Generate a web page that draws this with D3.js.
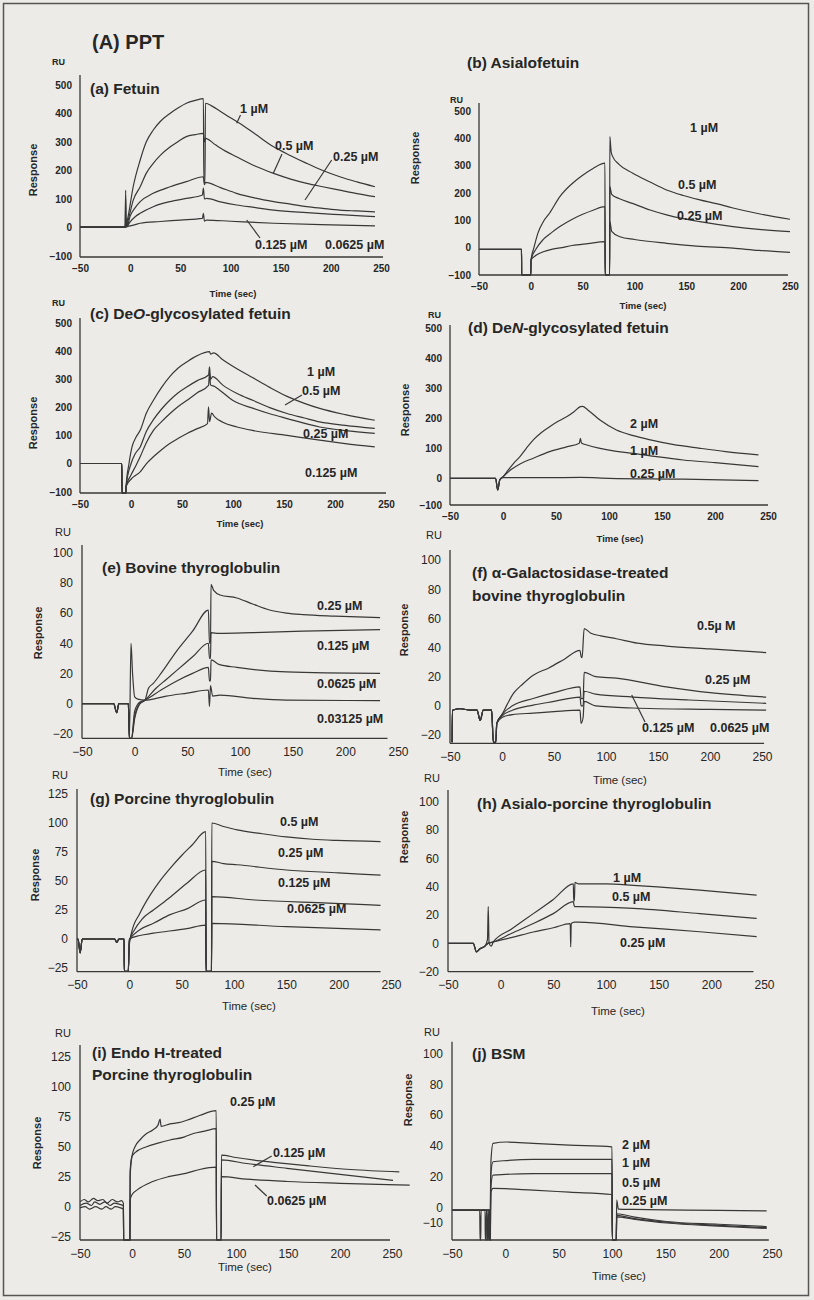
<!DOCTYPE html>
<html><head><meta charset="utf-8">
<script src="https://cdn.jsdelivr.net/npm/d3@7"></script>
<style>
body{margin:0;background:#ecebe7}
svg{display:block}
</style></head>
<body>
<svg id="chart" width="814" height="1300"></svg>
<script>
// ---------------- DATA (time in sec, response in RU) ----------------
const xTicks = [-50, 0, 50, 100, 150, 200, 250];
const yTicksFetuin = [-100, 0, 100, 200, 300, 400, 500];
const yTicks100 = [-20, 0, 20, 40, 60, 80, 100];
const yTicks125 = [-25, 0, 25, 50, 75, 100, 125];
const yTicksBSM = [-10, 0, 20, 40, 60, 80, 100];

// (a) Fetuin
const a_conc = ["1 µM", "0.5 µM", "0.25 µM", "0.125 µM", "0.0625 µM"];
const a_1 = [[-50,1],[-5,1],[-4.5,130],[-4,10],[-2,40],[3,143],[10,237],[16,300],[23,342],[30,372],[40,401],[48,420],[56,436],[65,446],[73,452],[73.4,160],[74.6,160],[75,436],[82,425],[89,410],[100,385],[109,366],[125,327],[143,283],[160,252],[176,225],[192,200],[209,178],[226,160],[244,143]];
const a_05 = [[-50,1],[-5,1],[-4.5,100],[-4,5],[-1,40],[3,95],[10,143],[16,190],[23,225],[30,253],[40,283],[48,302],[56,319],[65,326],[73,330],[74,300],[75,313],[85,290],[95,268],[106,248],[125,215],[143,190],[160,170],[176,155],[192,143],[209,131],[226,119],[244,108]];
const a_025 = [[-50,1],[-5,1],[-4,30],[-3,5],[0,40],[5,70],[10,91],[23,120],[40,143],[56,161],[73,178],[74,150],[75,158],[90,140],[106,120],[125,103],[143,91],[160,82],[176,73],[192,67],[209,61],[226,58],[244,55]];
const a_0125 = [[-50,1],[-5,1],[-3,5],[0,20],[5,38],[10,50],[23,73],[40,91],[56,102],[72,114],[73,138],[74,100],[76,102],[90,90],[106,79],[125,70],[143,61],[176,52],[209,45],[244,38]];
const a_00625 = [[-50,1],[-5,1],[-3,3],[5,10],[10,15],[30,21],[50,26],[72,32],[73,50],[74,22],[76,26],[100,22],[143,15],[190,10],[244,6]];

// (b) Asialofetuin
const b_conc = ["1 µM", "0.5 µM", "0.25 µM"];
const b_1 = [[-50,-6],[-9,-6],[-8.8,-100],[0,-100],[0.2,-45],[3,0],[7,55],[12,95],[18,126],[28,187],[40,235],[50,265],[60,290],[71.5,309],[71.7,-100],[76,-100],[76.2,406],[77.5,350],[79,333],[85,305],[98,273],[115,240],[131,211],[147,191],[163,175],[180,160],[195,145],[220,124],[250,104]];
const b_05 = [[-50,-6],[-9,-6],[-8.8,-100],[0,-100],[0.2,-45],[5,-5],[12,30],[20,55],[28,77],[40,104],[50,122],[60,137],[71.5,150],[71.7,-100],[76,-100],[76.2,223],[78,195],[85,180],[98,162],[115,138],[131,120],[147,106],[163,95],[195,77],[220,67],[250,59]];
const b_025 = [[-50,-6],[-9,-6],[-8.8,-100],[0,-100],[0.2,-45],[5,-28],[12,-15],[20,-6],[28,-1],[40,8],[55,15],[71.5,22],[71.7,-100],[76,-100],[76.2,95],[78,60],[86,40],[100,30],[131,16],[160,6],[195,-2],[220,-10],[250,-17]];

// (c) De-O-glycosylated fetuin
const c_conc = ["1 µM", "0.5 µM", "0.25 µM", "0.125 µM"];
const c_1 = [[-50,1],[-9,1],[-8.8,-104],[-5,-104],[-4.8,-80],[-2,0],[1,60],[5,95],[9,119],[15,180],[22,226],[30,272],[38,310],[46,340],[55,363],[65,385],[77,399],[78,390],[81,395],[90,370],[103,340],[120,305],[136,272],[153,240],[170,215],[185,197],[210,175],[239,155]];
const c_05 = [[-50,1],[-9,1],[-8.8,-104],[-5,-104],[-4.8,-80],[0,0],[4,35],[9,60],[15,115],[22,157],[30,195],[38,226],[46,252],[55,274],[65,296],[76,316],[77,345],[78,300],[80,310],[90,280],[104,250],[120,225],[136,200],[153,179],[170,163],[185,149],[210,137],[239,126]];
const c_025 = [[-50,1],[-9,1],[-8.8,-104],[-5,-104],[-4.8,-80],[0,-40],[5,-5],[9,25],[15,75],[22,119],[30,150],[38,178],[46,203],[55,226],[65,253],[76,279],[77,322],[78,280],[82,275],[87,262],[100,225],[120,197],[136,178],[153,161],[185,131],[210,118],[239,108]];
const c_0125 = [[-50,1],[-9,1],[-8.8,-104],[-5,-104],[-4.8,-80],[0,-55],[5,-40],[9,-29],[15,0],[22,25],[30,50],[38,72],[46,90],[55,108],[65,125],[75,143],[76,203],[77,150],[79,180],[82,167],[90,148],[104,131],[120,118],[153,101],[185,84],[210,72],[239,60]];

// (d) De-N-glycosylated fetuin
const d_conc = ["2 µM", "1 µM", "0.25 µM"];
const d_2 = [[-50,0],[-7,0],[-5,-39],[-3,-5],[0,5],[5,28],[10,50],[16,72],[22,100],[28.6,128],[36,152],[44,172],[52,190],[60,205],[67,222],[73,239],[75,240],[80,228],[91.5,194],[107,161],[123,142],[139,128],[160,113],[186,100],[210,89],[241,78]];
const d_1 = [[-50,0],[-7,0],[-5,-39],[-3,-5],[0,5],[8,30],[16,48],[28.6,67],[44,89],[60,105],[72,117],[73,133],[74,118],[80,110],[91.5,100],[107,90],[123,83],[145,72],[170,61],[200,52],[241,39]];
const d_025 = [[-50,0],[-7,0],[-5,-39],[-3,-5],[0,2],[40,2],[73,3],[100,0],[170,-3],[241,-8]];

// (e) Bovine thyroglobulin
const e_conc = ["0.25 µM", "0.125 µM", "0.0625 µM", "0.03125 µM"];
const e_base = [[-50,0],[-20,0],[-17,-6],[-15,0],[-6,0],[-5,-23]];
const e_025 = e_base.concat([[-3,-23],[0,-10],[5,0],[9.8,2.3],[13,10],[17.7,13.4],[25,20],[40,35],[55,48],[70,62],[71,40],[72,40],[72.5,79],[75,75],[81,72],[97,70],[112,66],[128,62],[144,60],[160,59],[190,58],[233,57]]);
const e_0125 = e_base.concat([[-3,-23],[0,-8],[5,0],[9.8,2.3],[20,10],[30,16],[40,22],[55,31],[70,40],[71,30],[72,30],[72.5,47],[80,46.5],[112,47],[160,48],[233,49]]);
const e_00625 = e_base.concat([[-3,-23],[0,-5],[5,1],[9.8,2.3],[25,9],[40,15],[55,20],[70,24],[71,15],[72,15],[72.5,29],[80,26],[97,24],[144,21],[233,20]]);
const e_003125 = e_base.concat([[-3.5,40],[-2,20],[0,4.5],[3,3],[9.8,2.3],[30,5],[50,7],[70,9],[71,-2],[72,12],[74,5],[81,5.6],[112,3.5],[144,2.3],[233,2]]);

// (f) alpha-galactosidase-treated bovine thyroglobulin
const f_conc = ["0.5µ M", "0.25 µM", "0.125 µM", "0.0625 µM"];
const f_base = [[-48,-25],[-47.6,-3],[-40,-2],[-30,-3],[-24,-3],[-21,-10],[-18,-3],[-10,-3],[-8.3,-25],[-6,-25],[-5,-12]];
const f_05 = f_base.concat([[0,-6],[5,1],[11,8.5],[20,15],[30,21],[45,26],[60,32],[75,38],[76,34],[77,33],[79,53],[85,50],[95,48],[110,46],[130,43],[158,41],[200,39],[254,36.5]]);
const f_025 = f_base.concat([[0,-6],[10,0],[30,5],[50,9],[75,13],[76,5],[78,5],[79,23],[90,20],[110,19],[158,13],[200,9],[254,6]]);
const f_0125 = f_base.concat([[0,-7],[10,-3],[30,0.5],[50,3],[75,6],[76,0],[78,0],[79,10],[90,8],[126,6],[180,4],[254,1.7]]);
const f_00625 = f_base.concat([[0,-8],[10,-6],[30,-5],[50,-4],[75,-3],[76,-12],[78,-8],[79,3],[90,0],[126,-1.5],[200,-2.5],[254,-3]]);

// (g) Porcine thyroglobulin
const g_conc = ["0.5 µM", "0.25 µM", "0.125 µM", "0.0625 µM"];
const g_base = [[-50,0],[-49,0],[-47,-12],[-45,0],[-14,0],[-12,-3],[-10,0],[-5,0],[-4.8,-28],[-1,-28]];
const g_05 = g_base.concat([[0,-5],[2,5],[10,22],[20,38],[30,51],[40,62],[50,72],[60,81],[73,92.5],[73.3,-28],[78.5,-28],[78.8,100],[90,97],[103,94],[125,91],[150,88],[175,86],[198,85],[240,84]]);
const g_025 = g_base.concat([[0,-2],[5,8],[12,17],[23,25],[39,36],[55,48],[73,59.5],[73.3,-28],[78.5,-28],[78.8,67],[90,65],[103,64],[150,59.5],[200,57],[240,55]]);
const g_0125 = g_base.concat([[0,-1],[10,8],[23,13.5],[39,21],[55,26],[73,33.6],[73.3,-28],[78.5,-28],[78.8,36.5],[120,33.6],[190,31],[240,29]]);
const g_00625 = g_base.concat([[0,0],[10,3],[23,5],[55,9],[73,12],[73.3,-28],[78.5,-28],[78.8,13.5],[150,10.6],[240,7.8]]);

// (h) Asialo-porcine thyroglobulin
const h_conc = ["1 µM", "0.5 µM", "0.25 µM"];
const h_base = [[-50,0],[-26,0],[-23,-6],[-20,-4],[-15,-2]];
const h_1 = h_base.concat([[-12.5,3],[-11.8,26],[-11,0],[-9,-2],[-7,1],[10,10],[31,21],[50,31],[69,42],[69.3,30],[70,30],[70.5,43],[74,42],[100,42],[126,41],[155,39.5],[189,37.6],[243,34]]);
const h_05 = h_base.concat([[-12,0],[-7,1],[10,7],[31,14],[50,21],[69,29.4],[70,26],[74,26],[126,24.7],[189,21],[243,17.6]]);
const h_025 = h_base.concat([[-12,0],[-7,1],[10,4],[31,8],[50,11],[66,14],[66.5,-2.4],[67,14],[70,15],[74,15],[126,11.7],[189,8.2],[243,4.7]]);

// (i) Endo H-treated porcine thyroglobulin
const i_conc = ["0.25 µM", "0.125 µM", "0.0625 µM"];
const i_025 = [[-50,4],[-46,6],[-42,4],[-37,7],[-33,5],[-28,6],[-24,3],[-19,6],[-14,4],[-10,5],[-8.3,3],[-8,-28],[-2,-28],[-1.8,25],[0,42],[2.9,50],[8,56],[14,61],[20,64],[25,68],[27,73],[28,67],[36.5,69],[45,70],[52.6,72],[65,76],[81,80],[81.3,-28],[85.7,-28],[86,43],[100,41],[116,39],[136,37],[170,34],[210,31],[257,29]];
const i_0125 = [[-50,1],[-44,3],[-39,1],[-36,4],[-31,2],[-26,4],[-21,1],[-17,3],[-12,2],[-8.3,1],[-8,-28],[-2,-28],[-1.8,30],[0,42],[2.9,45],[14,50],[25,53],[36.5,55.6],[50,58],[59,61],[70,63],[81,65],[81.3,-28],[85.7,-28],[86,39],[110,36],[149,32],[200,27],[251,22]];
const i_00625 = [[-50,-1],[-45,0],[-41,-2],[-35,0],[-29,-2],[-25,0],[-20,-2],[-16,0],[-11,-1],[-8.3,-2],[-8,-28],[-2,-28],[-1.8,5.6],[0,10],[5,14],[20,21],[35,25],[52.6,28],[65,31],[81,33],[81.3,-28],[85.7,-28],[86,25],[110,23],[149,21],[200,19.5],[267,18]];

// (j) BSM
const j_conc = ["2 µM", "1 µM", "0.5 µM", "0.25 µM"];
const j_2 = [[-50,-1.6],[-24,-1.6],[-23.7,-21],[-23,-21],[-22.8,-1.6],[-15,-1.6],[-14.5,-21],[-14,-21],[-13.5,30],[-11.5,41.6],[1.3,42.5],[26,41.6],[60,40.5],[100,39.4],[100.3,-21],[104,-21],[104.4,4.9],[106,-1],[120,-1.2],[151,-1.5],[200,-1.8],[245,-2.1]];
const j_1 = [[-50,-1.6],[-19,-1.6],[-18.8,-21],[-18,-21],[-17.8,-1.6],[-14.5,-1.6],[-14.2,-21],[-13.8,20],[-11.5,29.7],[1.3,30.5],[26,31.2],[100,31.2],[100.3,-21],[104,-21],[104.4,-4],[120,-6],[151,-9],[200,-10.8],[245,-12.3]];
const j_05 = [[-50,-1.6],[-17.5,-1.6],[-17.3,-21],[-16.5,-21],[-16.3,-1.6],[-14.5,-1.6],[-14.2,-21],[-13.8,12],[-11.5,21],[26,22],[100,22],[100.3,-21],[104,-21],[104.4,-5],[120,-7],[151,-9.5],[200,-11.5],[245,-13]];
const j_025 = [[-50,-1.6],[-16,-1.6],[-15.8,-21],[-15.2,-21],[-15,-1.6],[-14.5,-1.6],[-14.2,-21],[-13.5,10],[-11.5,12.4],[26,11.3],[60,10],[100,8.5],[100.3,-21],[104,-21],[104.4,-6],[120,-7.5],[151,-10],[200,-12],[245,-13.5]];

// ---------------- LAYOUT ----------------
const FN = "'Liberation Sans Narrow','Arial Narrow','Liberation Sans',Arial,sans-serif";
const FA = "'Liberation Sans',Arial,sans-serif";
const panels = [
 {series:[a_1,a_05,a_025,a_0125,a_00625], conc:a_conc, xr:[80,381], yd:[-103.5,500], yr:[257,85], top:75, xEnd:252, yTicks:yTicksFetuin, small:true,
  title:[["(a) Fetuin"]], tx:90, ty:[88], ru:[52,62], resp:[33,170], time:[233,293],
  lab:[[240,109],[275,146],[333,157],[255,245],[325,245]], ptr:[[236.7,123.3,240.5,115],[273.3,173.3,282,154],[305,200,331.7,160],[246.7,220,260,238]]},
 {series:[b_1,b_05,b_025], conc:b_conc, xr:[479,790], yd:[-100,500], yr:[275,111], top:103, xEnd:248, yTicks:yTicksFetuin, small:true,
  title:[["(b) Asialofetuin"]], tx:467, ty:[62], ru:[450,100], resp:[415,158], time:[643,305],
  lab:[[690,128],[678,185],[677,216]], ptr:[]},
 {series:[c_1,c_05,c_025,c_0125], conc:c_conc, xr:[80,386], yd:[-104,500], yr:[493,323.3], top:318, xEnd:250, yTicks:yTicksFetuin, small:true,
  title:[["(c) De",""],["O","i"],["-glycosylated fetuin",""]], tx:90, ty:[313], ru:[52,303], resp:[33,423], time:[240,523],
  lab:[[307,372],[302,391],[303,434],[305,473]], ptr:[[285,405,302,395]]},
 {series:[d_2,d_1,d_025], conc:d_conc, xr:[450,768], yd:[-89,500], yr:[505,328.3], top:325, xEnd:250, yTicks:yTicksFetuin, small:true,
  title:[["(d) De",""],["N","i"],["-glycosylated fetuin",""]], tx:468, ty:[327], ru:[428,315], resp:[405,410], time:[620,538],
  lab:[[630,424],[630,451],[630,474]], ptr:[]},
 {series:[e_025,e_0125,e_00625,e_003125], conc:e_conc, xr:[82,398], yd:[-23,100], yr:[738.3,552.7], top:545, xEnd:240, yTicks:yTicks100, small:false,
  title:[["(e) Bovine thyroglobulin"]], tx:102, ty:[567], ru:[55,532], resp:[38,633], time:[245,772],
  lab:[[317,606],[317,646],[317,684],[317,719]], ptr:[]},
 {series:[f_05,f_025,f_0125,f_00625], conc:f_conc, xr:[450,762], yd:[-25.7,100], yr:[743.3,560], top:550, xEnd:252, yTicks:yTicks100, small:false,
  title:[["(f) α-Galactosidase-treated"],["bovine thyroglobulin"]], tx:472, ty:[572,595], ru:[426,535], resp:[404,630], time:[620,780],
  lab:[[697,626],[705,680],[642,728],[710,728]], ptr:[[631.7,695,645,722]]},
 {series:[g_05,g_025,g_0125,g_00625], conc:g_conc, xr:[77,391], yd:[-28.2,125], yr:[971.7,794], top:789, xEnd:240, yTicks:yTicks125, small:false,
  title:[["(g) Porcine thyroglobulin"]], tx:90, ty:[798], ru:[52,775], resp:[35,875], time:[249,1006],
  lab:[[280,822],[278,853],[278,883],[287,909]], ptr:[]},
 {series:[h_1,h_05,h_025], conc:h_conc, xr:[448,764], yd:[-20,100], yr:[971.7,801.7], top:790, xEnd:240, yTicks:yTicks100, small:false,
  title:[["(h) Asialo-porcine thyroglobulin"]], tx:477, ty:[803], ru:[424,778], resp:[404,837], time:[618,1011],
  lab:[[613,878],[612,897],[620,943]], ptr:[]},
 {series:[i_025,i_0125,i_00625], conc:i_conc, xr:[80,392], yd:[-27.75,125], yr:[1240,1056.7], top:1045, xEnd:248, yTicks:yTicks125, small:false,
  title:[["(i) Endo H-treated"],["Porcine thyroglobulin"]], tx:92, ty:[1052,1074], ru:[55,1033], resp:[37,1143], time:[245,1267],
  lab:[[230,1102],[273,1153],[267,1201]], ptr:[[253.3,1166.7,271.7,1156],[255,1185,266.7,1196]]},
 {series:[j_2,j_1,j_05,j_025], conc:j_conc, xr:[452,772], yd:[-21,100], yr:[1240,1053.3], top:1041.7, xEnd:247, yTicks:yTicksBSM, small:false,
  title:[["(j) BSM"]], tx:472, ty:[1053], ru:[424,1032], resp:[408,1100], time:[619,1276],
  lab:[[622,1145],[622,1163],[622,1183],[622,1201]], ptr:[]}
];

// ---------------- DRAW ----------------
const svg = d3.select("#chart");
const INK = "#262626", LINE = "#383838";
svg.append("rect").attr("x",0).attr("y",0).attr("width",814).attr("height",1300).attr("fill","#ecebe7");
svg.append("rect").attr("x",3.5).attr("y",3.5).attr("width",805).attr("height",1292)
   .attr("fill","none").attr("stroke","#555").attr("stroke-width",1.5);

svg.append("text").attr("x",92).attr("y",42).attr("dominant-baseline","central")
   .attr("font-family",FN).attr("font-weight","bold").attr("font-size",20).attr("fill",INK).text("(A) PPT");

panels.forEach(p => {
  const g = svg.append("g");
  const x = d3.scaleLinear().domain([-50,250]).range(p.xr);
  const y = d3.scaleLinear().domain(p.yd).range(p.yr).clamp(true);
  const x0 = x(-50), yb = y(p.yd[0]);

  // axis lines
  g.append("line").attr("x1",x0).attr("x2",x0).attr("y1",p.top).attr("y2",yb).attr("stroke",LINE).attr("stroke-width",1.3);
  g.append("line").attr("x1",x0).attr("x2",x(p.xEnd)).attr("y1",yb).attr("y2",yb).attr("stroke",LINE).attr("stroke-width",1.3);

  const tickFont = p.small ? FA : FN;
  const tickSize = p.small ? 10 : 12;
  const tickW = p.small ? "bold" : "normal";

  const xa = g.append("g").attr("transform",`translate(0,${yb})`)
    .call(d3.axisBottom(x).tickValues(xTicks).tickSize(0).tickPadding(p.small?8:9));
  const ya = g.append("g").attr("transform",`translate(${x0},0)`)
    .call(d3.axisLeft(y).tickValues(p.yTicks).tickSize(0).tickPadding(p.small?8:9));
  [xa,ya].forEach(a => {
    a.select(".domain").remove();
    a.selectAll("text").attr("font-family",tickFont).attr("font-size",tickSize)
      .attr("font-weight",tickW).attr("fill",INK);
  });

  // axis titles
  g.append("text").attr("x",p.ru[0]).attr("y",p.ru[1]).attr("dominant-baseline","central")
    .attr("font-family",FA).attr("font-size",p.small?9:11).attr("font-weight",p.small?"bold":"normal").attr("fill",INK).text("RU");
  g.append("text").attr("transform",`translate(${p.resp[0]},${p.resp[1]}) rotate(-90)`)
    .attr("text-anchor","middle").attr("dominant-baseline","central")
    .attr("font-family",FA).attr("font-size",11).attr("font-weight","bold").attr("fill",INK).text("Response");
  g.append("text").attr("x",p.time[0]).attr("y",p.time[1]).attr("text-anchor","middle").attr("dominant-baseline","central")
    .attr("font-family",FA).attr("font-size",p.small?9.5:11.5).attr("font-weight",p.small?"bold":"normal").attr("fill",INK).text("Time (sec)");

  // panel title
  if (p.title.length && p.title[0].length === 2) {
    const t = g.append("text").attr("x",p.tx).attr("y",p.ty[0]).attr("dominant-baseline","central")
      .attr("font-family",FN).attr("font-weight","bold").attr("font-size",15.5).attr("fill",INK);
    p.title.forEach(s => t.append("tspan").attr("font-style",s[1]==="i"?"italic":"normal").text(s[0]));
  } else {
    p.title.forEach((s,k) => g.append("text").attr("x",p.tx).attr("y",p.ty[k]).attr("dominant-baseline","central")
      .attr("font-family",FN).attr("font-weight","bold").attr("font-size",15.5).attr("fill",INK).text(s[0]));
  }

  // curves
  const line = d3.line().x(d => x(d[0])).y(d => y(d[1])).curve(d3.curveMonotoneX);
  g.selectAll("path.s").data(p.series).enter().append("path").attr("class","s")
    .attr("d",line).attr("fill","none").attr("stroke",LINE).attr("stroke-width",1.2).attr("stroke-linejoin","round");

  // concentration labels
  p.conc.forEach((c,k) => {
    g.append("text").attr("x",p.lab[k][0]).attr("y",p.lab[k][1]).attr("dominant-baseline","central")
      .attr("font-family",FN).attr("font-weight","bold").attr("font-size",12.5).attr("fill",INK).text(c);
  });
  p.ptr.forEach(q => g.append("line").attr("x1",q[0]).attr("y1",q[1]).attr("x2",q[2]).attr("y2",q[3])
      .attr("stroke",LINE).attr("stroke-width",1.2));
});
</script>
</body></html>
